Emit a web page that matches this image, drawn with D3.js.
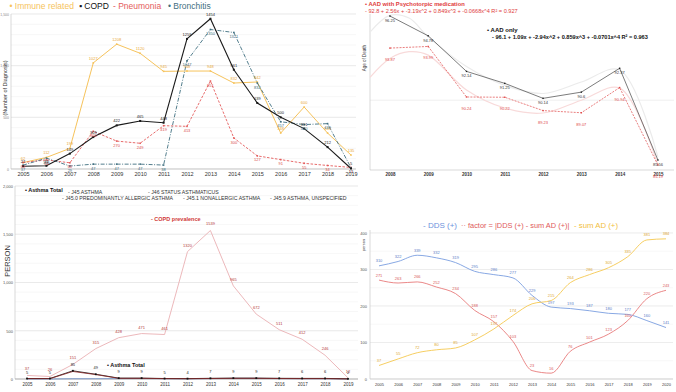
<!DOCTYPE html>
<html>
<head>
<meta charset="utf-8">
<script src="https://cdn.jsdelivr.net/npm/d3@7"></script>
<style>
  body { margin: 0; background: #fff; }
  svg { display: block; font-family: 'Liberation Sans', Arial, sans-serif; }
</style>
</head>
<body>
<svg id="chart" width="676" height="392"></svg>
<script>
// ---- panel A : number of diagnosis
const yearsA = [2005, 2006, 2007, 2008, 2009, 2010, 2011, 2012, 2013, 2014, 2015, 2016, 2017, 2018, 2019];
const immuneRelated = [62, 112, 199, 1027, 1208, 1120, 945, 948, 948, 832, 842, 348, 600, 348, 135];
const copd = [27, 31, 149, 309, 422, 465, 448, 1259, 1454, 961, 639, 500, 391, 212, 5];
const pneumonia = [63, 88, 60, 365, 270, 249, 419, 413, 851, 300, 127, 91, 55, 34, 15];
const bronchitis = [37, 105, 29, 47, 47, 47, 38, 1047, 1350, 1321, 832, 457, 430, 439, 12];
const ticksA = [0, 500, 1000, 1500];

// ---- panel B : age of death
const yearsB = [2008, 2009, 2010, 2011, 2012, 2013, 2014, 2015];
const aadOnly = [96.25, 94.78, 92.14, 91.25, 90.14, 90.6, 92.37, 85.56];
const aadPsycho = [93.87, 93.99, 90.24, 90.22, 89.23, 89.07, 90.94, 85.19];
const trendYearsB = [2007.48, 2008, 2008.5, 2009, 2010, 2011, 2012, 2013, 2014, 2015];
const aadOnlyTrend = [95.06, 96.3, 96.1, 94.7, 92.5, 91.1, 90.5, 91.35, 92.24, 85.8];
const aadPsychoTrend = [91.7, 93.1, 93.6, 93.35, 90.76, 89.42, 89.05, 90.0, 90.9, 85.2];

// ---- panel C : asthma / COPD prevalence
const yearsC = [2005, 2006, 2007, 2008, 2009, 2010, 2011, 2012, 2013, 2014, 2015, 2016, 2017, 2018, 2019];
const copdPrevalence = [37, 26, 151, 315, 428, 471, 461, 1320, 1539, 965, 672, 511, 412, 246, 12];
const asthmaTotal = [5, 5, 85, 49, 9, 9, 5, 4, 7, 9, 9, 7, 6, 6, 2];
const j45Asthma = [4, 4, 78, 46, 7, 7, 4, 3, 5, 7, 7, 5, 4, 4, 1];
const j450Allergic = [0, 0, 3, 3, 4, 5, 3, 2, 4, 6, 6, 4, 3, 3, 1];
const ticksC = [0, 500, 1000, 1500, 2000];

// ---- panel D : DDS vs sum AD
const yearsD = [2005, 2006, 2007, 2008, 2009, 2010, 2011, 2012, 2013, 2014, 2015, 2016, 2017, 2018, 2019, 2020];
const dds = [310, 322, 339, 332, 319, 295, 286, 277, 229, 197, 193, 187, 180, 177, 160, 141];
const factor = [271, 263, 266, 252, 234, 188, 157, 103, 23, 16, 76, 101, 123, 160, 220, 243];
const sumAD = [37, 55, 72, 80, 85, 107, 137, 174, 206, 215, 264, 286, 305, 335, 381, 384];
const ticksD = [0, 100, 200, 300, 400];

const $svg = d3.select('#chart');

const addLine = ($g, xs, ys, x, y, style) => {
  const line = d3.line()
    .x((d, i) => x(xs[i]))
    .y((d) => y(d))
    .curve(style.curve || d3.curveLinear);
  $g.append('path')
    .datum(ys)
    .attr('d', line)
    .attr('fill', 'none')
    .attr('stroke', style.color)
    .attr('stroke-width', style.width || 1)
    .attr('stroke-dasharray', style.dash || null);
};

const addDots = ($g, xs, ys, x, y, color, size) => {
  $g.append('g')
    .selectAll('rect')
    .data(ys)
    .enter()
    .append('rect')
    .attr('x', (d, i) => x(xs[i]) - size / 2)
    .attr('y', (d) => y(d) - size / 2)
    .attr('width', size)
    .attr('height', size)
    .attr('fill', color);
};

const addLabels = ($g, xs, ys, x, y, style) => {
  $g.append('g')
    .selectAll('text')
    .data(ys)
    .enter()
    .append('text')
    .text((d) => d)
    .attr('x', (d, i) => x(xs[i]) + (style.dx || 0))
    .attr('y', (d) => y(d) + style.dy)
    .attr('text-anchor', 'middle')
    .attr('font-size', style.size)
    .attr('fill', style.color);
};

const addGrid = ($g, values, y, x1, x2, color) => {
  $g.append('g')
    .selectAll('line')
    .data(values)
    .enter()
    .append('line')
    .attr('x1', x1)
    .attr('x2', x2)
    .attr('y1', (d) => y(d))
    .attr('y2', (d) => y(d))
    .attr('stroke', color)
    .attr('stroke-width', 0.6);
};

const addLegend = ($g, items) => {
  items.forEach((it) => {
    $g.append('text')
      .text(it.text)
      .attr('x', it.x)
      .attr('y', it.y)
      .attr('font-size', it.size)
      .attr('font-weight', it.bold ? 'bold' : 'normal')
      .attr('fill', it.color);
  });
};

const styleAxis = ($axis, size, color, weight) => {
  $axis.select('.domain').remove();
  $axis.selectAll('line').remove();
  $axis.selectAll('text')
    .attr('font-size', size)
    .attr('fill', color)
    .attr('font-weight', weight || 'normal')
    .attr('font-family', null);
};

// ================= panel A
(function() {
  const xScale = d3.scaleLinear().domain([2005, 2019]).range([23, 351]),
    yScale = d3.scaleLinear().domain([0, 1500]).range([169, 14]),
    $g = $svg.append('g');

  addGrid($g, yScale.ticks(15), yScale, 11, 356, '#f2f2f2');
  addGrid($g, ticksA, yScale, 11, 356, '#e2e2e2');
  $g.append('line').attr('x1', 11).attr('x2', 11).attr('y1', 14).attr('y2', 169).attr('stroke', '#c8c8c8').attr('stroke-width', 0.7);
  $g.append('line').attr('x1', 11).attr('x2', 356).attr('y1', yScale(0)).attr('y2', yScale(0)).attr('stroke', '#bbb').attr('stroke-width', 0.7);

  const $y = $g.append('g').attr('transform', 'translate(10,0)')
    .call(d3.axisLeft(yScale).tickValues(ticksA).tickSize(0).tickPadding(1));
  styleAxis($y, 3.5, '#888');
  const $x = $g.append('g').attr('transform', 'translate(0,' + 170 + ')')
    .call(d3.axisBottom(xScale).tickValues(yearsA).tickFormat(d3.format('d')).tickSize(0).tickPadding(2));
  styleAxis($x, 5.5, '#333');

  $g.append('text')
    .text('(Number of Diagnosis)')
    .attr('text-anchor', 'middle')
    .attr('font-size', 5.5)
    .attr('fill', '#333')
    .attr('transform', 'translate(7,' + 88 + ') rotate(-90)');

  addLine($g, yearsA, immuneRelated, xScale, yScale, { color: '#f6c35c', width: 1 });
  addLine($g, yearsA, pneumonia, xScale, yScale, { color: '#e45b5b', width: 0.9, dash: '2.5,1.5' });
  addLine($g, yearsA, bronchitis, xScale, yScale, { color: '#3f6f80', width: 0.9, dash: '4,1.5,1,1.5' });
  addLine($g, yearsA, copd, xScale, yScale, { color: '#1a1a1a', width: 1.1 });

  addDots($g, yearsA, immuneRelated, xScale, yScale, '#f6c35c', 1.6);
  addDots($g, yearsA, pneumonia, xScale, yScale, '#e45b5b', 1.6);
  addDots($g, yearsA, bronchitis, xScale, yScale, '#3f6f80', 1.6);
  addDots($g, yearsA, copd, xScale, yScale, '#1a1a1a', 2);

  addLabels($g, yearsA, immuneRelated, xScale, yScale, { dy: -3, size: 4, color: '#e9a93a' });
  addLabels($g, yearsA, pneumonia, xScale, yScale, { dy: 5.5, size: 4, color: '#d94b4b' });
  addLabels($g, yearsA, bronchitis, xScale, yScale, { dy: 5.5, size: 4, color: '#3f6f80' });
  addLabels($g, yearsA, copd, xScale, yScale, { dy: -3, size: 4, color: '#222' });

  addLegend($g, [
    { text: '• Immune related', x: 9.5, y: 8.5, size: 8.5, color: '#f6c35c' },
    { text: '▪ COPD', x: 79, y: 8.5, size: 8.5, color: '#111' },
    { text: '- Pneumonia', x: 113, y: 8.5, size: 8.5, color: '#e45b5b' },
    { text: '• Bronchitis', x: 168, y: 8.5, size: 8.5, color: '#3f6f80' }
  ]);
})();

// ================= panel B
(function() {
  const xScale = d3.scaleLinear().domain([2007.48, 2015.42]).range([370, 674]),
    yScale = d3.scaleLinear().domain([84.82, 96.4]).range([170, 14]),
    $g = $svg.append('g');

  addGrid($g, [90], yScale, 370, 674, '#e6e6e6');
  $g.append('line').attr('x1', 370).attr('x2', 370).attr('y1', 14).attr('y2', 170).attr('stroke', '#c8c8c8').attr('stroke-width', 0.7);
  $g.append('line').attr('x1', 370).attr('x2', 674).attr('y1', 170).attr('y2', 170).attr('stroke', '#c8c8c8').attr('stroke-width', 0.7);

  const $x = $g.append('g').attr('transform', 'translate(0,' + 171 + ')')
    .call(d3.axisBottom(xScale).tickValues(yearsB).tickFormat(d3.format('d')).tickSize(0).tickPadding(2));
  styleAxis($x, 4.5, '#333', 'bold');

  $g.append('text')
    .text('Age of Death')
    .attr('text-anchor', 'middle')
    .attr('font-size', 4.5)
    .attr('fill', '#333')
    .attr('transform', 'translate(366,' + 58 + ') rotate(-90)');

  addLine($g, trendYearsB, aadOnlyTrend, xScale, yScale, { color: '#ebebeb', width: 1.2, curve: d3.curveCatmullRom });
  addLine($g, trendYearsB, aadPsychoTrend, xScale, yScale, { color: '#f8dada', width: 1.2, curve: d3.curveCatmullRom });
  addLine($g, yearsB, aadPsycho, xScale, yScale, { color: '#e04848', width: 0.7, dash: '2,1.2' });
  addLine($g, yearsB, aadOnly, xScale, yScale, { color: '#444', width: 0.7 });
  addDots($g, yearsB, aadPsycho, xScale, yScale, '#e04848', 1.4);
  addDots($g, yearsB, aadOnly, xScale, yScale, '#222', 1.4);

  addLabels($g, yearsB, aadOnly, xScale, yScale, { dy: 6, size: 4, color: '#333' });
  addLabels($g, yearsB, aadPsycho, xScale, yScale, { dy: 13, size: 4, color: '#e04848' });

  addLegend($g, [
    { text: '• AAD with Psychotorpic medication', x: 365, y: 6, size: 5.8, bold: true, color: '#e03c3c' },
    { text: '- 92.8 + 2.56x + -3.19x^2 + 0.849x^3 + -0.0668x^4 R² = 0.927', x: 365, y: 12.5, size: 5.6, color: '#e03c3c' },
    { text: '• AAD only', x: 487, y: 32, size: 6, bold: true, color: '#111' },
    { text: '- 96.1 + 1.09x + -2.94x^2 + 0.859x^3 + -0.0701x^4 R² = 0.963', x: 492, y: 38.5, size: 5.6, bold: true, color: '#111' }
  ]);
})();

// ================= panel C
(function() {
  const xScale = d3.scaleLinear().domain([2005, 2019]).range([27, 348]),
    yScale = d3.scaleLinear().domain([0, 2000]).range([379, 186]),
    $g = $svg.append('g');

  addGrid($g, yScale.ticks(20), yScale, 15, 358, '#f2f2f2');
  addGrid($g, ticksC, yScale, 15, 358, '#e0e0e0');
  $g.append('line').attr('x1', 15).attr('x2', 15).attr('y1', 186).attr('y2', 379).attr('stroke', '#c8c8c8').attr('stroke-width', 0.7);
  $g.append('line').attr('x1', 15).attr('x2', 358).attr('y1', 379).attr('y2', 379).attr('stroke', '#999').attr('stroke-width', 0.7);

  const $y = $g.append('g').attr('transform', 'translate(14,0)')
    .call(d3.axisLeft(yScale).tickValues(ticksC).tickSize(0).tickPadding(1));
  styleAxis($y, 4, '#555');
  const $x = $g.append('g').attr('transform', 'translate(0,' + 381 + ')')
    .call(d3.axisBottom(xScale).tickValues(yearsC).tickFormat(d3.format('d')).tickSize(0).tickPadding(2));
  styleAxis($x, 4.5, '#333');

  $g.append('text')
    .text('PERSON')
    .attr('text-anchor', 'middle')
    .attr('font-size', 7.5)
    .attr('fill', '#333')
    .attr('transform', 'translate(10,' + 261 + ') rotate(-90)');

  addLine($g, yearsC, copdPrevalence, xScale, yScale, { color: '#eab0b3', width: 0.9 });
  addLine($g, yearsC, j450Allergic, xScale, yScale, { color: '#6d8fc9', width: 0.8 });
  addLine($g, yearsC, asthmaTotal, xScale, yScale, { color: '#222', width: 0.9 });
  addLine($g, yearsC, j45Asthma, xScale, yScale, { color: '#8b2323', width: 0.8 });
  addDots($g, yearsC, asthmaTotal, xScale, yScale, '#111', 1.8);

  addLabels($g, yearsC, copdPrevalence, xScale, yScale, { dy: -5, size: 4, color: '#b53a3a' });
  addLabels($g, yearsC, asthmaTotal, xScale, yScale, { dy: -5, size: 4, color: '#222' });

  addLegend($g, [
    { text: '• Asthma Total', x: 25, y: 192, size: 5.5, bold: true, color: '#111' },
    { text: '- J45 ASTHMA', x: 68, y: 194, size: 5.2, color: '#333' },
    { text: '- J46 STATUS ASTHMATICUS', x: 148, y: 194, size: 5.2, color: '#333' },
    { text: '- J45.0 PREDOMINANTLY ALLERGIC ASTHMA', x: 62, y: 200, size: 5.2, color: '#333' },
    { text: '- J45.1 NONALLERGIC ASTHMA', x: 183, y: 200, size: 5.2, color: '#333' },
    { text: '- J45.9 ASTHMA, UNSPECIFIED', x: 270, y: 200, size: 5.2, color: '#333' },
    { text: '- COPD prevalence', x: 151, y: 221, size: 5.5, bold: true, color: '#d03838' },
    { text: '• Asthma Total', x: 107, y: 367, size: 5.5, bold: true, color: '#111' }
  ]);
})();

// ================= panel D
(function() {
  const xScale = d3.scaleLinear().domain([2005, 2020]).range([379, 666]),
    yScale = d3.scaleLinear().domain([0, 400]).range([379, 233]),
    $g = $svg.append('g');

  addGrid($g, yScale.ticks(8), yScale, 370, 673, '#f3f3f3');
  addGrid($g, ticksD, yScale, 370, 673, '#e6e6e6');
  $g.append('line').attr('x1', 370).attr('x2', 370).attr('y1', 230).attr('y2', 379).attr('stroke', '#c8c8c8').attr('stroke-width', 0.7);
  $g.append('line').attr('x1', 370).attr('x2', 673).attr('y1', 379).attr('y2', 379).attr('stroke', '#c8c8c8').attr('stroke-width', 0.7);

  const $y = $g.append('g').attr('transform', 'translate(368,0)')
    .call(d3.axisLeft(yScale).tickValues(ticksD).tickSize(0).tickPadding(1));
  styleAxis($y, 4, '#555');
  const $x = $g.append('g').attr('transform', 'translate(0,' + 381 + ')')
    .call(d3.axisBottom(xScale).tickValues(yearsD).tickFormat(d3.format('d')).tickSize(0).tickPadding(2));
  styleAxis($x, 4, '#333');

  $g.append('text')
    .text('person')
    .attr('text-anchor', 'middle')
    .attr('font-size', 4)
    .attr('fill', '#333')
    .attr('transform', 'translate(365,' + 245 + ') rotate(-90)');

  addLine($g, yearsD, dds, xScale, yScale, { color: '#7b9ee0', width: 0.9, curve: d3.curveMonotoneX });
  addLine($g, yearsD, factor, xScale, yScale, { color: '#e87a7a', width: 0.9, curve: d3.curveMonotoneX });
  addLine($g, yearsD, sumAD, xScale, yScale, { color: '#f5c850', width: 0.9, curve: d3.curveMonotoneX });

  addLabels($g, yearsD, dds, xScale, yScale, { dy: -3.5, size: 4, color: '#5d80c8' });
  addLabels($g, yearsD, factor, xScale, yScale, { dy: -3.5, size: 4, color: '#d85b5b' });
  addLabels($g, yearsD, sumAD, xScale, yScale, { dy: -3.5, size: 4, color: '#dea935' });

  addLegend($g, [
    { text: '- DDS (+)', x: 423, y: 228, size: 8, color: '#6d92dc' },
    { text: '·· factor = |DDS (+) - sum AD (+)|', x: 461, y: 228, size: 7.4, color: '#e05a5a' },
    { text: '- sum AD (+)', x: 574, y: 228, size: 7.8, color: '#f2c040' }
  ]);
})();
</script>
</body>
</html>
